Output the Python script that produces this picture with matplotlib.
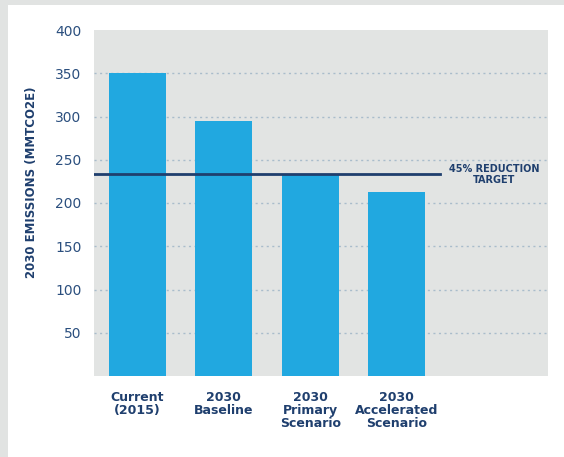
import matplotlib.pyplot as plt
from matplotlib.patches import Rectangle

# data
categories = ["Current\n(2015)", "2030\nBaseline", "2030\nPrimary\nScenario", "2030\nAccelerated\nScenario"]
emissions = [350, 295, 233, 213]
target = 233
yticks = [50, 100, 150, 200, 250, 300, 350, 400]

navy = "#1f3f6e"
label_col = "#2b4f7e"
bar_col = "#21a8e0"

fig = plt.figure(figsize=(5.64, 4.57), dpi=100)
fig.patch.set_facecolor("#e1e3e2")
fig.patches.append(Rectangle((8 / 564, 0), 1, 1 - 5 / 457, transform=fig.transFigure,
                             facecolor="white", edgecolor="none", zorder=-5))

ax = fig.add_axes([94 / 564, (457 - 376) / 457, (548 - 94) / 564, (376 - 30) / 457])
ax.set_zorder(2)
ax.set_facecolor("#e2e4e3")

x = range(len(categories))
ax.bar(x, emissions, width=0.66, color=bar_col, zorder=2)
ax.set_xlim(-0.5, 4.75)
ax.set_ylim(0, 400)

ax.set_yticks(yticks)
ax.yaxis.grid(True, linestyle=(0, (1.5, 2.5)), color="#a9bccb", linewidth=1, zorder=1)
ax.yaxis.get_gridlines()[-1].set_visible(False)  # no line at the top
ax.set_axisbelow(True)
for s in ax.spines.values():
    s.set_visible(False)
ax.tick_params(axis="y", length=0, pad=9, labelsize=10, labelcolor=label_col)
ax.tick_params(axis="x", length=0, pad=11)
ax.set_xticks(list(x))
ax.set_xticklabels(categories, fontsize=9, fontweight="bold", color=navy, linespacing=1.0)

# target line
ax.plot([-0.5, 3.5], [target, target], color=navy, linewidth=2, zorder=3)
ax.text(4.13, target, "45% REDUCTION\nTARGET", ha="center", va="center",
        fontsize=7, fontweight="bold", color=navy, linespacing=1.1)

fig.text(32 / 564, 1 - 182 / 457, "2030 EMISSIONS (MMTCO2E)", rotation=90,
         ha="center", va="center", fontsize=8.5, fontweight="bold", color=navy)

fig.savefig("out.png", dpi=100, facecolor=fig.get_facecolor())
